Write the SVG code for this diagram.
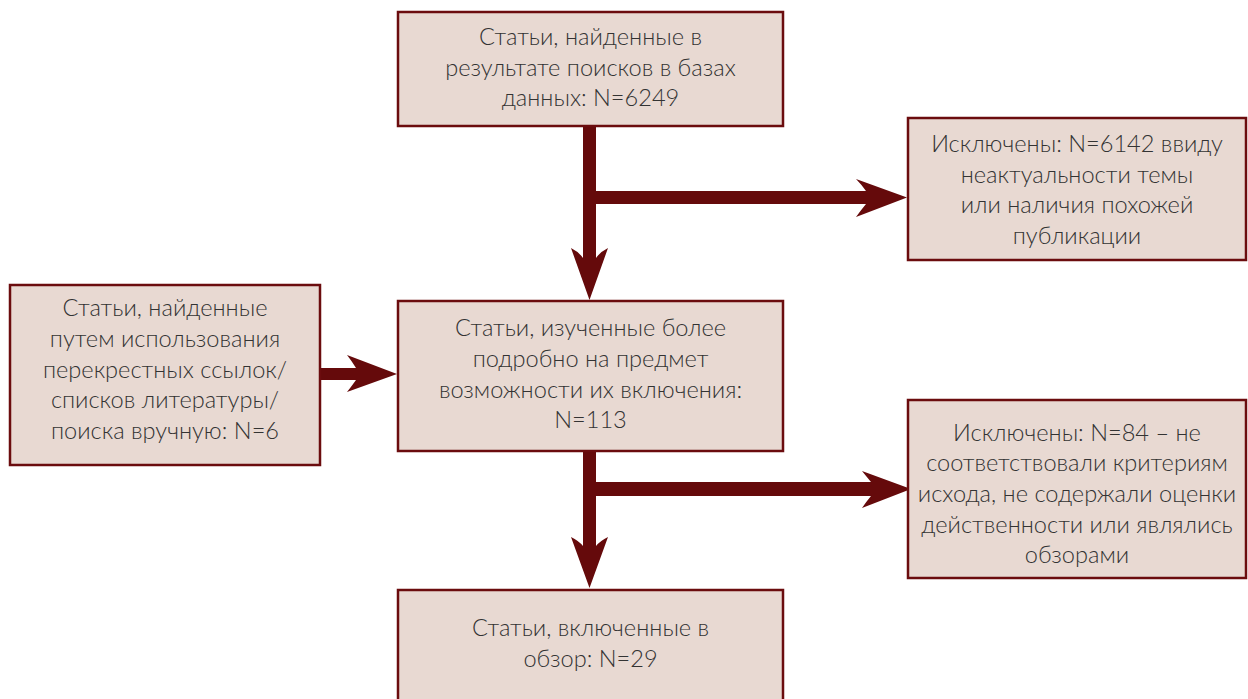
<svg xmlns="http://www.w3.org/2000/svg" width="1248" height="699" viewBox="0 0 1248 699">
<style>
.box{fill:#e8d9d2;stroke:#6b0c0e;stroke-width:2.5}
.t{font-family:Lato,"Open Sans","DejaVu Sans",sans-serif;font-size:23.6px;font-weight:300;fill:#333333;text-anchor:middle}
.arr{fill:#650a0b}
</style>
<rect width="1248" height="699" fill="#ffffff"/>
<g id="connectors">
<path class="arr" d="M583,126 H596 V258 Q600,252 608,248 L589.5,300 L571,248 Q579,252 583,258 Z"/>
<path class="arr" d="M596,191 H866 Q861,184 856,179 L907,197.5 L856,217 Q861,210 866,204 H596 Z"/>
<path class="arr" d="M320,368 H356 Q351,360 347,355 L397,374 L347,392 Q351,387 356,380 H320 Z"/>
<path class="arr" d="M583,451 H596 V546 Q600,541 608,537 L589.5,588 L571,537 Q579,541 583,546 Z"/>
<path class="arr" d="M596,482 H871 Q866,476 862,471 L911,489 L862,508 Q866,502 871,496 H596 Z"/>
</g>
<g id="n1">
<rect class="box" x="398" y="12" width="385" height="114"/>
<text class="t" x="590.5" y="45">Статьи, найденные в</text>
<text class="t" x="590.5" y="76">результате поисков в базах</text>
<text class="t" x="590.5" y="106">данных: N=6249</text>
</g>
<g id="n2">
<rect class="box" x="908" y="118" width="338" height="142"/>
<text class="t" x="1077" y="152">Исключены: N=6142 ввиду</text>
<text class="t" x="1077" y="183">неактуальности темы</text>
<text class="t" x="1077" y="213">или наличия похожей</text>
<text class="t" x="1077" y="244">публикации</text>
</g>
<g id="n3">
<rect class="box" x="10" y="285" width="310" height="180"/>
<text class="t" x="165" y="316">Статьи, найденные</text>
<text class="t" x="165" y="347">путем использования</text>
<text class="t" x="165" y="378">перекрестных ссылок/</text>
<text class="t" x="165" y="408">списков литературы/</text>
<text class="t" x="165" y="439">поиска вручную: N=6</text>
</g>
<g id="n4">
<rect class="box" x="398" y="301" width="385" height="150"/>
<text class="t" x="590.5" y="336">Статьи, изученные более</text>
<text class="t" x="590.5" y="367">подробно на предмет</text>
<text class="t" x="590.5" y="398">возможности их включения:</text>
<text class="t" x="590.5" y="428">N=113</text>
</g>
<g id="n5">
<rect class="box" x="908" y="400" width="338" height="178"/>
<text class="t" x="1077" y="441">Исключены: N=84 – не</text>
<text class="t" x="1077" y="471">соответствовали критериям</text>
<text class="t" x="1077" y="502">исхода, не содержали оценки</text>
<text class="t" x="1077" y="533">действенности или являлись</text>
<text class="t" x="1077" y="563">обзорами</text>
</g>
<g id="n6">
<rect class="box" x="398" y="590" width="385" height="125"/>
<text class="t" x="590.5" y="636">Статьи, включенные в</text>
<text class="t" x="590.5" y="667">обзор: N=29</text>
</g>
</svg>
